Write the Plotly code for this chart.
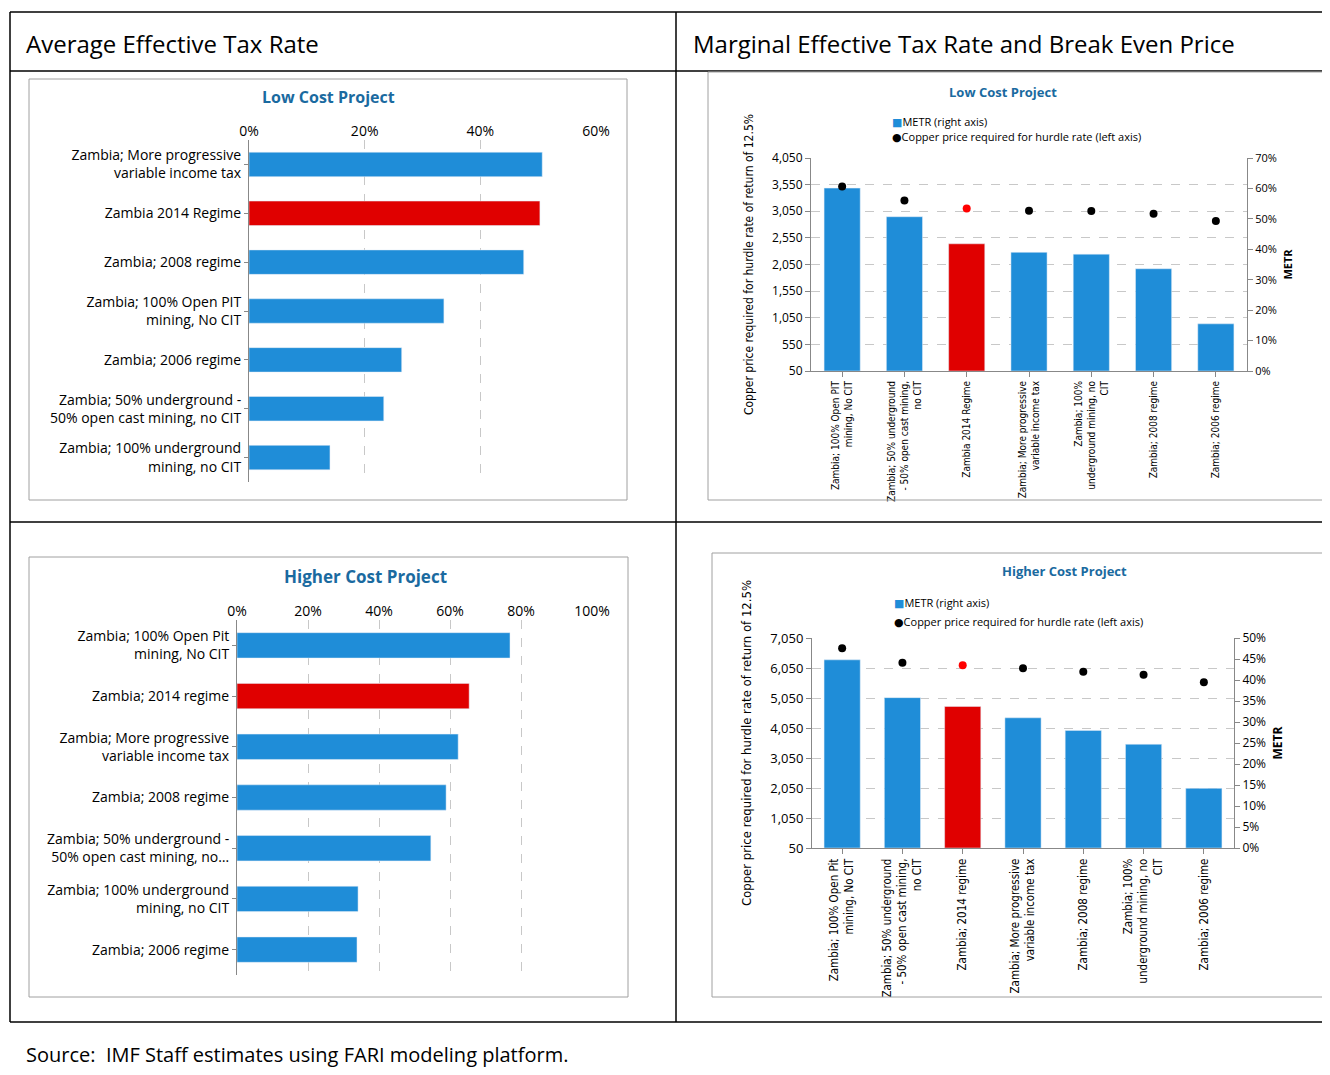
import plotly.graph_objects as go

W, H = 1330, 1075
BLUE, RED, TITLE = "#1f8dd8", "#e00000", "#1a6aa0"

# Average effective tax rate, low cost project
aetr_low_cats = ["Zambia; More progressive<br>variable income tax", "Zambia 2014 Regime", "Zambia; 2008 regime",
                 "Zambia; 100% Open PIT<br>mining, No CIT", "Zambia; 2006 regime",
                 "Zambia; 50% underground -<br>50% open cast mining, no CIT", "Zambia; 100% underground<br>mining, no CIT"]
aetr_low = [0.507, 0.503, 0.475, 0.337, 0.264, 0.233, 0.140]

# Average effective tax rate, higher cost project
aetr_high_cats = ["Zambia; 100% Open Pit<br>mining, No CIT", "Zambia; 2014 regime",
                  "Zambia; More progressive<br>variable income tax", "Zambia; 2008 regime",
                  "Zambia; 50% underground -<br>50% open cast mining, no…", "Zambia; 100% underground<br>mining, no CIT",
                  "Zambia; 2006 regime"]
aetr_high = [0.769, 0.654, 0.623, 0.589, 0.546, 0.341, 0.338]

# METR and break-even price, low cost project
metr_low_cats = ["Zambia; 100% Open PIT<br>mining, No CIT", "Zambia; 50% underground<br>- 50% open cast mining,<br>no CIT",
                 "Zambia 2014 Regime", "Zambia; More progressive<br>variable income tax",
                 "Zambia; 100%<br>underground mining, no<br>CIT", "Zambia; 2008 regime", "Zambia; 2006 regime"]
metr_low = [0.601, 0.507, 0.418, 0.390, 0.384, 0.336, 0.155]
price_low = [3517, 3254, 3103, 3060, 3053, 3003, 2865]

# METR and break-even price, higher cost project
metr_high_cats = ["Zambia; 100% Open Pit<br>mining, No CIT", "Zambia; 50% underground<br>- 50% open cast mining,<br>no CIT",
                  "Zambia; 2014 regime", "Zambia; More progressive<br>variable income tax", "Zambia; 2008 regime",
                  "Zambia; 100%<br>underground mining, no<br>CIT", "Zambia; 2006 regime"]
metr_high = [0.448, 0.358, 0.337, 0.310, 0.280, 0.247, 0.142]
price_high = [6706, 6228, 6139, 6039, 5928, 5828, 5572]

OFF = 8  # page body margin


def px(x):
    return (x - OFF) / W


def py(y):
    return 1 - (y - OFF) / H


def colors(cats):
    return [RED if "2014" in c else BLUE for c in cats]


fig = go.Figure()
fig.add_trace(go.Bar(y=aetr_low_cats, x=aetr_low, orientation="h", marker_color=colors(aetr_low_cats),
                     width=0.5, xaxis="x", yaxis="y", showlegend=False))
fig.add_trace(go.Bar(x=metr_low_cats, y=metr_low, marker_color=colors(metr_low_cats), width=0.58,
                     xaxis="x2", yaxis="y2", showlegend=False))
fig.add_trace(go.Scatter(x=metr_low_cats, y=price_low, mode="markers", xaxis="x2", yaxis="y3",
                         marker=dict(size=8, color=["red" if "2014" in c else "black" for c in metr_low_cats]),
                         showlegend=False))
fig.add_trace(go.Bar(y=aetr_high_cats, x=aetr_high, orientation="h", marker_color=colors(aetr_high_cats),
                     width=0.5, xaxis="x4", yaxis="y4", showlegend=False))
fig.add_trace(go.Bar(x=metr_high_cats, y=metr_high, marker_color=colors(metr_high_cats), width=0.6,
                     xaxis="x5", yaxis="y5", showlegend=False))
fig.add_trace(go.Scatter(x=metr_high_cats, y=price_high, mode="markers", xaxis="x5", yaxis="y6",
                         marker=dict(size=8, color=["red" if "2014" in c else "black" for c in metr_high_cats]),
                         showlegend=False))

f = dict(family="Open Sans, DejaVu Sans", size=14, color="black")
narrow = dict(family="DejaVu Sans Condensed, Liberation Sans Narrow, Roboto", size=10, color="black")
grid = dict(showgrid=True, gridcolor="#c8c8c8", griddash="dash", gridwidth=1)
ax = dict(automargin=False)

fig.update_layout(
    width=W, height=H, margin=dict(l=0, r=0, t=0, b=0, autoexpand=False),
    paper_bgcolor="white", plot_bgcolor="white", font=f, bargap=0.4,
    xaxis=dict(domain=[px(249), px(596)], range=[0, 0.6], dtick=0.2, tickformat=".0%", side="top",
               anchor="y", zeroline=False, **grid, **ax, tickfont=dict(size=14)),
    yaxis=dict(domain=[py(482), py(140)], autorange="reversed", anchor="x", showline=True, **ax,
               linecolor="#888", ticks="outside", ticklen=4, tickcolor="#888", tickfont=dict(size=14)),
    xaxis2=dict(domain=[px(811), px(1247)], anchor="y2", tickangle=-90, tickfont=narrow, **ax,
                showline=True, linecolor="#888", ticks="outside", tickcolor="#888"),
    yaxis2=dict(domain=[py(371), py(158)], range=[0, 0.7], dtick=0.1, tickformat=".0%", side="right",
                anchor="x2", showline=True, linecolor="#888", showgrid=False, zeroline=False, **ax,
                ticks="outside", tickcolor="#888", tickfont=dict(size=11),
                title=dict(text="<b>METR</b>", font=dict(size=11), standoff=8)),
    yaxis3=dict(range=[50, 4050], tick0=50, dtick=500, tickformat=",", overlaying="y2", side="left",
                anchor="x2", showline=True, linecolor="#888", ticks="outside", tickcolor="#888",
                tickfont=dict(size=12), zeroline=False, **grid, **ax,
                title=dict(text="Copper price required for hurdle rate of return of 12.5%", font=narrow | dict(size=12))),
    xaxis4=dict(domain=[px(237), px(592)], range=[0, 1.0], dtick=0.2, tickformat=".0%", side="top",
                anchor="y4", zeroline=False, **grid, **ax, tickfont=dict(size=14)),
    yaxis4=dict(domain=[py(975), py(620)], autorange="reversed", anchor="x4", showline=True, **ax,
                linecolor="#888", ticks="outside", ticklen=4, tickcolor="#888", tickfont=dict(size=14)),
    xaxis5=dict(domain=[px(812), px(1234)], anchor="y5", tickangle=-90, tickfont=narrow | dict(size=11.5),
                showline=True, linecolor="#888", ticks="outside", tickcolor="#888", **ax),
    yaxis5=dict(domain=[py(848), py(638)], range=[0, 0.5], dtick=0.05, tickformat=".0%", side="right",
                anchor="x5", showline=True, linecolor="#888", showgrid=False, zeroline=False, **ax,
                ticks="outside", tickcolor="#888", tickfont=dict(size=12),
                title=dict(text="<b>METR</b>", font=dict(size=12), standoff=8)),
    yaxis6=dict(range=[50, 7050], tick0=50, dtick=1000, tickformat=",", overlaying="y5", side="left",
                anchor="x5", showline=True, linecolor="#888", ticks="outside", tickcolor="#888",
                tickfont=dict(size=13), zeroline=False, **grid, **ax,
                title=dict(text="Copper price required for hurdle rate of return of 12.5%", font=narrow | dict(size=13))),
)

# table lines and chart frames
shapes = []
for y in [12, 71, 522, 1022]:
    shapes.append(dict(type="line", xref="paper", yref="paper", x0=px(10), x1=1, y0=py(y), y1=py(y),
                       line=dict(color="black", width=1.5)))
for x in [10, 676]:
    shapes.append(dict(type="line", xref="paper", yref="paper", x0=px(x), x1=px(x), y0=py(12), y1=py(1022),
                       line=dict(color="black", width=1.5)))
for x0, y0, x1, y1 in [(29, 79, 627, 500), (708, 72, 1329, 500), (29, 557, 628, 997), (712, 553, 1325, 997)]:
    shapes.append(dict(type="rect", xref="paper", yref="paper", x0=px(x0), x1=px(x1), y0=py(y0), y1=py(y1),
                       line=dict(color="#a0a0a0", width=1)))
fig.update_layout(shapes=shapes)


def note(text, x, y, size=14, color="black", xanchor="left", bold=False):
    fig.add_annotation(text=f"<b>{text}</b>" if bold else text, x=px(x), y=py(y), xref="paper", yref="paper",
                       showarrow=False, xanchor=xanchor, yanchor="middle", font=dict(size=size, color=color))


note("Average Effective Tax Rate", 24, 44, size=24)
note("Marginal Effective Tax Rate and Break Even Price", 691, 44, size=24)
note("Source:  IMF Staff estimates using FARI modeling platform.", 24, 1054, size=20)
note("Low Cost Project", 328, 97, size=16, color=TITLE, xanchor="center", bold=True)
note("Low Cost Project", 1003, 92, size=13, color=TITLE, xanchor="center", bold=True)
note("Higher Cost Project", 365, 576, size=17, color=TITLE, xanchor="center", bold=True)
note("Higher Cost Project", 1064, 571, size=13, color=TITLE, xanchor="center", bold=True)
note(f"<span style='color:{BLUE}'>■</span>METR (right axis)", 890, 121, size=11)
note("●Copper price required for hurdle rate (left axis)", 890, 136, size=11)
note(f"<span style='color:{BLUE}'>■</span>METR (right axis)", 892, 602, size=11)
note("●Copper price required for hurdle rate (left axis)", 892, 621, size=11)

fig.write_html("out.html")
